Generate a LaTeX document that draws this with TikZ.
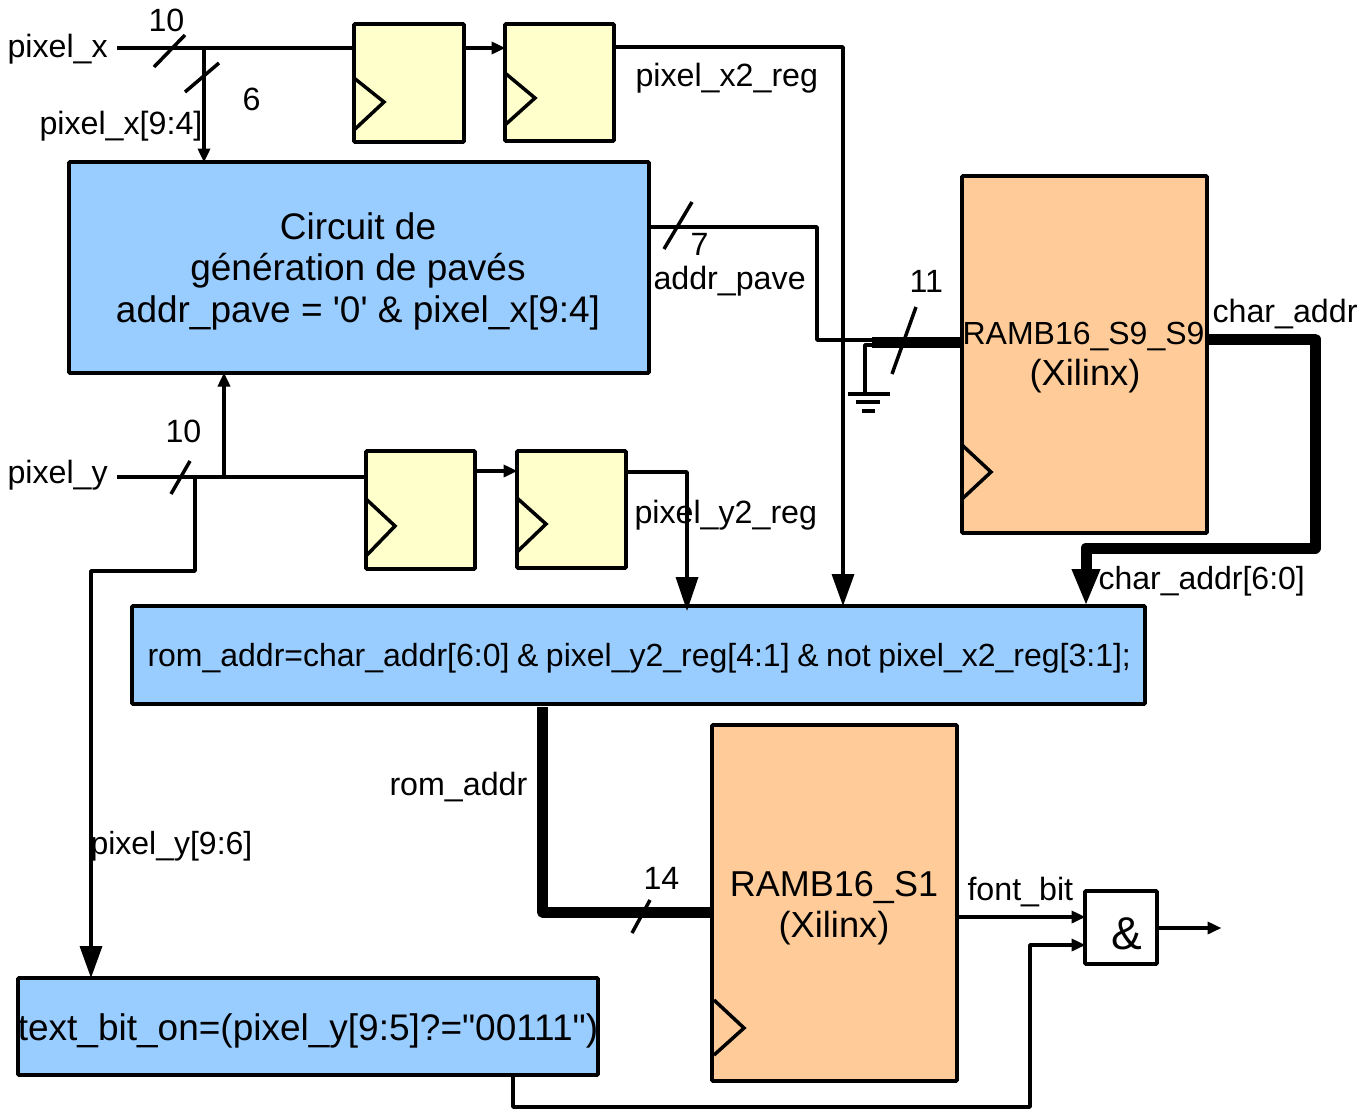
\documentclass[tikz,border=0pt]{standalone}
\usepackage{fontspec}
\setmainfont{Liberation Sans}[Ligatures=TeXOff]
\usetikzlibrary{arrows.meta,calc}
\definecolor{regfill}{HTML}{FFFFCC}
\definecolor{logicfill}{HTML}{99CCFF}
\definecolor{ramfill}{HTML}{FFCC99}
\tikzset{
  blockbox/.style={draw=black,line width=3.6,rounded corners=1,anchor=north west,inner sep=0,outer sep=0},
  regbox/.style={blockbox,fill=regfill},
  logicbox/.style={blockbox,fill=logicfill},
  rambox/.style={blockbox,fill=ramfill},
  wire/.style={line width=3.5,draw=black,line join=round},
  buswire/.style={line width=11,draw=black,line join=round},
  tinytip/.style={wire,-{Triangle[length=14,width=12]},shorten >=-0.5},
  largetip/.style={wire,-{Triangle[length=32,width=22]}},
  slashmark/.style={line width=3.5,draw=black},
  clockmark/.style={line width=3.5,draw=black,line join=miter},
  lab/.style={inner sep=0,outer sep=0,anchor=base west,yshift=1,xshift=-0.5,font=\fontsize{32.2}{36}\selectfont},
  bigc/.style={inner sep=0,outer sep=0,anchor=base,font=\fontsize{36.3}{40}\selectfont},
  widec/.style={bigc,font=\fontsize{37}{40}\selectfont},
}
\begin{document}
\begin{tikzpicture}[x=1pt,y=-1pt]
\useasboundingbox (0,0) rectangle (1372,1109);
% blocks
\node[regbox,minimum width=110,minimum height=118] (reg1) at (354,24) {};
\node[regbox,minimum width=109,minimum height=117] (reg2) at (505,24) {};
\node[regbox,minimum width=109,minimum height=118] (reg3) at (366,451) {};
\node[regbox,minimum width=109,minimum height=117] (reg4) at (517,451) {};
\node[logicbox,minimum width=580,minimum height=211] (gen) at (69,162) {};
\node[rambox,minimum width=245,minimum height=357] (ram1) at (962,176) {};
\node[logicbox,minimum width=1013,minimum height=98] (rom) at (132,606) {};
\node[rambox,minimum width=245,minimum height=356] (ram2) at (712,725) {};
\node[logicbox,minimum width=580,minimum height=97] (textbit) at (18,978) {};
\node[blockbox,fill=white,minimum width=72,minimum height=73] (andg) at (1085,891) {};
% free ends
\coordinate (xin) at (117,48);
\coordinate (xtap) at (204,48);
\coordinate (yin) at (117,477);
\coordinate (ytapa) at (224,477);
\coordinate (ytapb) at (195,477);
\coordinate (gnd) at (865,395);
\coordinate (outp) at (1221,928);
% wires
\draw[wire] (xin) -- (xin -| reg1.west);
\draw[tinytip] (xtap) -- (xtap |- gen.north);
\draw[tinytip] (reg1.east |- 0,48) -- (reg2.west |- 0,48);
\draw[largetip] (reg2.east |- 0,47) -| (rom.north -| 843,0);
\draw[wire] (gen.east |- 0,227) -| (817,340) -- (872,340);
\draw[buswire] (872,342) -- (ram1.west |- 0,342);
\draw[wire] (872,345) -| (gnd);
\draw[wire] (848,394) -- (890,394);
\draw[wire] (856,402) -- (880,402);
\draw[wire] (862,411) -- (875,411);
\draw[wire] (yin) -- (yin -| reg3.west);
\draw[tinytip] (ytapa) -- (ytapa |- gen.south);
\draw[largetip] (ytapb) |- (91,571) -- (textbit.north -| 91,0);
\draw[tinytip] (reg3.east |- 0,471) -- (reg4.west |- 0,471);
\draw[largetip,-{Triangle[length=34,width=22]},shorten >=-5] (reg4.east |- 0,472) -| (rom.north -| 687,0);
\draw[buswire,-{Triangle[length=37,width=26]}] (ram1.east |- 0,339) -| (1315,548) -| (rom.north -| 1086,0);
\draw[buswire,shorten <=3] (rom.south -| 542.5,0) |- (ram2.west |- 0,912);
\draw[tinytip] (ram2.east |- 0,917) -- (andg.west |- 0,917);
\draw[tinytip] (textbit.south -| 513,0) |- (1030,1107) |- (andg.west |- 0,945);
\draw[tinytip] (andg.east |- outp) -- (outp);
% bus slashes
\draw[slashmark] (154,67) -- (185,35);
\draw[slashmark] (185,92) -- (219,63);
\draw[slashmark] (664,249) -- (692,202);
\draw[slashmark] (892,374) -- (916,307);
\draw[slashmark] (171,494) -- (190,461);
\draw[slashmark] (632,933) -- (650,900);
% clock marks
\draw[clockmark] (354,78) -- (384,102) -- (354,130);
\draw[clockmark] (505,73) -- (535,98) -- (505,125);
\draw[clockmark] (366,499) -- (395,526) -- (366,556);
\draw[clockmark] (517,498) -- (546,524) -- (517,552);
\draw[clockmark] (962,445) -- (991,472) -- (962,499);
\draw[clockmark] (714,1000) -- (744,1028) -- (714,1055);
% labels
\node[lab] (l1) at (8,58) {pixel\_x};
\node[lab] (l2) at (149,32) {10};
\node[lab] (l3) at (243,111) {6};
\node[lab] (l4) at (40,135) {pixel\_x[9:4]};
\node[lab] (l5) at (636,87) {pixel\_x2\_reg};
\node[lab] (l6) at (691,256) {7};
\node[lab] (l7) at (654,290) {addr\_pave};
\node[lab] (l8) at (910,293) {11};
\node[lab] (l9) at (1213,323) {char\_addr};
\node[lab,anchor=base,xshift=0,font=\fontsize{32}{36}\selectfont] (l10) at (1084,345) {RAMB16\_S9\_S9};
\node[bigc] (l11) at (1085,385) {(Xilinx)};
\node[lab] (l12) at (8,484) {pixel\_y};
\node[lab] (l13) at (166,443) {10};
\node[lab] (l14) at (635,524) {pixel\_y2\_reg};
\node[lab,font=\fontsize{32}{36}\selectfont] (l15) at (1099,590) {char\_addr[6:0]};
\node[lab,font=\fontsize{32}{36}\selectfont] (l16) at (148,667) {\spaceskip=7.6pt rom\_addr=char\_addr[6:0] \& pixel\_y2\_reg[4:1] \& not pixel\_x2\_reg[3:1];};
\node[lab] (l17) at (390,796) {rom\_addr};
\node[lab,font=\fontsize{32}{36}\selectfont] (l18) at (91,855) {pixel\_y[9:6]};
\node[lab] (l19) at (644,890) {14};
\node[bigc,font=\fontsize{36}{40}\selectfont] (l20) at (834,896) {RAMB16\_S1};
\node[bigc] (l21) at (834,937) {(Xilinx)};
\node[lab] (l22) at (968,901) {font\_bit};
\node[bigc,font=\fontsize{46}{50}\selectfont] (l23) at (1127,949) {\&};
\node[widec] (l24) at (308,1040) {text\_bit\_on=(pixel\_y[9:5]?="00111")};
\node[widec] (l25) at (358,239) {Circuit de};
\node[widec] (l26) at (358,280) {génération de pavés};
\node[widec] (l27) at (358,322) {addr\_pave = '0' \& pixel\_x[9:4]};
\end{tikzpicture}
\end{document}
